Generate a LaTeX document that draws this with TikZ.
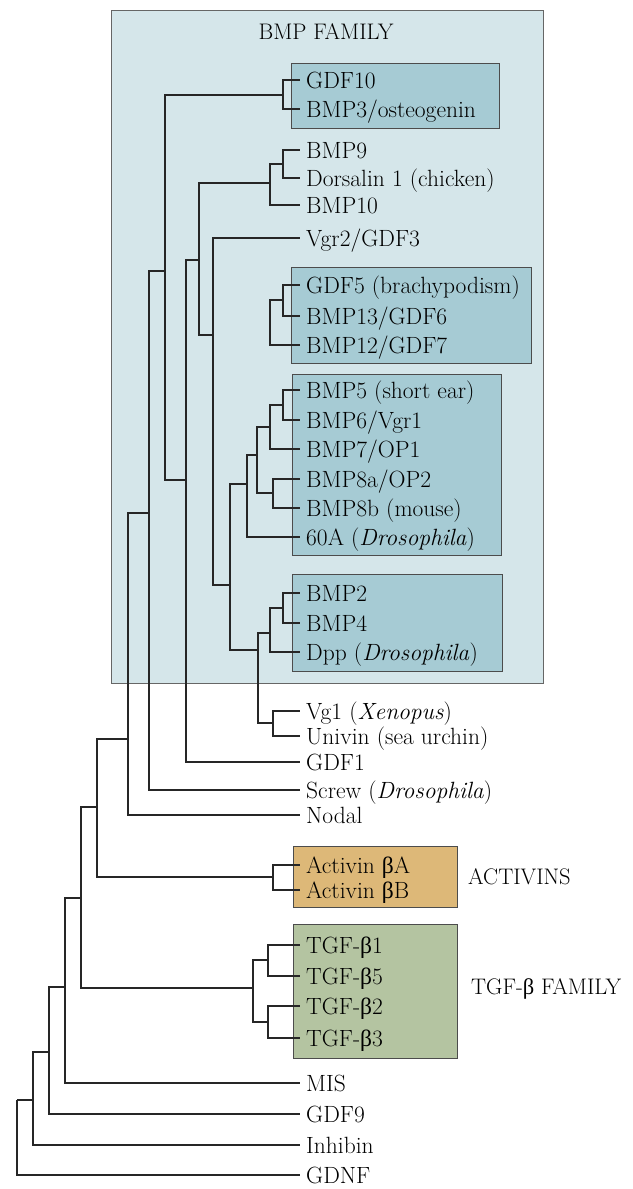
\documentclass[tikz,border=0pt]{standalone}
\usepackage{fontspec}
\newfontfamily\grkfont{Liberation Serif}
\newcommand{\upb}{{\grkfont β}}
\definecolor{bmpout}{RGB}{213,230,234}
\definecolor{bmpin}{RGB}{166,203,212}
\definecolor{actfill}{RGB}{221,184,120}
\definecolor{tgffill}{RGB}{180,196,161}

\begin{document}
\begin{tikzpicture}[
  x=1pt, y=-1pt,
  every node/.style={inner sep=0pt},
  leaf/.style={anchor=west, inner xsep=6pt, text height=16pt, text depth=0pt, font=\fontsize{23.5}{28}\selectfont},
  ttl/.style={text height=15.5pt, text depth=0pt, font=\fontsize{22.5}{27}\selectfont},
  br/.style={line width=1.1pt, draw=black!85},
  famP/.style={fill=bmpout, draw=black!60, line width=0.8pt},
  subP/.style={fill=bmpin, draw=black!70, line width=0.8pt},
]
  \useasboundingbox (0,0) rectangle (632,1189);

  % ============ family boxes ============
  \draw[famP] (111,10) rectangle (543,683);
  \draw[subP] (291,63) rectangle (499,128);
  \draw[subP] (291,267) rectangle (531,363);
  \draw[subP] (292,374) rectangle (501,555);
  \draw[subP] (292,574) rectangle (502,671);
  \draw[line width=0.8pt, draw=black!70, fill=actfill] (293,846) rectangle (457,907);
  \draw[line width=0.8pt, draw=black!70, fill=tgffill] (293,924) rectangle (457,1058);

  \node[ttl] (bmpttl) at (326,32) {BMP FAMILY};
  \node[ttl,anchor=west] (actttl) at (468,877) {ACTIVINS};
  \node[ttl,anchor=west] (tgfttl) at (471,987) {TGF-\upb{} FAMILY};

  % ============ leaves ============
  \node[leaf] (gdf10) at (300,80) {GDF10};
  \node[leaf] (bmp3) at (300,109) {BMP3/osteogenin};
  \node[leaf] (bmp9) at (300,150) {BMP9};
  \node[leaf] (dors) at (300,178) {Dorsalin 1 (chicken)};
  \node[leaf] (bmp10) at (300,205) {BMP10};
  \node[leaf] (vgr2) at (300,238) {Vgr2/GDF3};
  \node[leaf] (gdf5) at (300,285) {GDF5 (brachypodism)};
  \node[leaf] (bmp13) at (300,316) {BMP13/GDF6};
  \node[leaf] (bmp12) at (300,345) {BMP12/GDF7};
  \node[leaf] (bmp5) at (300,390) {BMP5 (short ear)};
  \node[leaf] (bmp6) at (300,420) {BMP6/Vgr1};
  \node[leaf] (bmp7) at (300,449) {BMP7/OP1};
  \node[leaf] (bmp8a) at (300,479) {BMP8a/OP2};
  \node[leaf] (bmp8b) at (300,508) {BMP8b (mouse)};
  \node[leaf] (sixtyA) at (300,537) {60A (\textit{Drosophila})};
  \node[leaf] (bmp2) at (300,593) {BMP2};
  \node[leaf] (bmp4) at (300,623) {BMP4};
  \node[leaf] (dpp) at (300,652) {Dpp (\textit{Drosophila})};
  \node[leaf] (vg1) at (300,711) {Vg1 (\textit{Xenopus})};
  \node[leaf] (univin) at (300,736) {Univin (sea urchin)};
  \node[leaf] (gdf1) at (300,762) {GDF1};
  \node[leaf] (screw) at (300,790) {Screw (\textit{Drosophila})};
  \node[leaf] (nodal) at (300,815) {Nodal};
  \node[leaf] (actA) at (300,865) {Activin \upb A};
  \node[leaf] (actB) at (300,890) {Activin \upb B};
  \node[leaf] (tgfb1) at (300,945) {TGF-\upb 1};
  \node[leaf] (tgfb5) at (300,976) {TGF-\upb 5};
  \node[leaf] (tgfb2) at (300,1006) {TGF-\upb 2};
  \node[leaf] (tgfb3) at (300,1038) {TGF-\upb 3};
  \node[leaf] (mis) at (300,1083) {MIS};
  \node[leaf] (gdf9) at (300,1114) {GDF9};
  \node[leaf] (inhibin) at (300,1145) {Inhibin};
  \node[leaf] (gdnf) at (300,1175) {GDNF};

  % ============ branch points ============
  \coordinate (a1) at (283,95);
  \coordinate (a2) at (283,164);
  \coordinate (a3) at (270,183);
  \coordinate (a4) at (283,300);
  \coordinate (a5) at (270,323);
  \coordinate (a6) at (283,405);
  \coordinate (a7) at (270,427);
  \coordinate (a8) at (273,493);
  \coordinate (a9) at (257,455);
  \coordinate (a10) at (247,484);
  \coordinate (b1) at (283,608);
  \coordinate (b2) at (270,633);
  \coordinate (b3) at (273,723);
  \coordinate (b4) at (258,650);
  \coordinate (c1) at (230,585);
  \coordinate (c2) at (213,335);
  \coordinate (c3) at (199,260);
  \coordinate (c4) at (186,480);
  \coordinate (c5) at (165,271);
  \coordinate (c6) at (149,513);
  \coordinate (c7) at (128,739);
  \coordinate (c8) at (97,807);
  \coordinate (d1) at (273,877);
  \coordinate (c9) at (81,898);
  \coordinate (e1) at (268,960);
  \coordinate (e2) at (268,1022);
  \coordinate (e3) at (253,988);
  \coordinate (c10) at (65,987);
  \coordinate (c11) at (49,1052);
  \coordinate (c12) at (33,1100);
  \coordinate (root) at (17,1100);

  % ============ branches ============
  \draw[br] (a1) |- (gdf10.west);  \draw[br] (a1) |- (bmp3.west);
  \draw[br] (a2) |- (bmp9.west);   \draw[br] (a2) |- (dors.west);
  \draw[br] (a3) |- (a2);          \draw[br] (a3) |- (bmp10.west);
  \draw[br] (a4) |- (gdf5.west);   \draw[br] (a4) |- (bmp13.west);
  \draw[br] (a5) |- (a4);          \draw[br] (a5) |- (bmp12.west);
  \draw[br] (a6) |- (bmp5.west);   \draw[br] (a6) |- (bmp6.west);
  \draw[br] (a7) |- (a6);          \draw[br] (a7) |- (bmp7.west);
  \draw[br] (a8) |- (bmp8a.west);  \draw[br] (a8) |- (bmp8b.west);
  \draw[br] (a9) |- (a7);          \draw[br] (a9) |- (a8);
  \draw[br] (a10) |- (a9);         \draw[br] (a10) |- (sixtyA.west);
  \draw[br] (b1) |- (bmp2.west);   \draw[br] (b1) |- (bmp4.west);
  \draw[br] (b2) |- (b1);          \draw[br] (b2) |- (dpp.west);
  \draw[br] (b3) |- (vg1.west);    \draw[br] (b3) |- (univin.west);
  \draw[br] (b4) |- (b2);          \draw[br] (b4) |- (b3);
  \draw[br] (c1) |- (a10);         \draw[br] (c1) |- (b4);
  \draw[br] (c2) |- (vgr2.west);   \draw[br] (c2) |- (c1);
  \draw[br] (c3) |- (a3);          \draw[br] (c3) |- (c2);
  \draw[br] (c4) |- (c3);          \draw[br] (c4) |- (gdf1.west);
  \draw[br] (c5) |- (a1);          \draw[br] (c5) |- (c4);
  \draw[br] (c6) |- (c5);          \draw[br] (c6) |- (screw.west);
  \draw[br] (c7) |- (c6);          \draw[br] (c7) |- (nodal.west);
  \draw[br] (d1) |- (actA.west);   \draw[br] (d1) |- (actB.west);
  \draw[br] (c8) |- (c7);          \draw[br] (c8) |- (d1);
  \draw[br] (e1) |- (tgfb1.west);  \draw[br] (e1) |- (tgfb5.west);
  \draw[br] (e2) |- (tgfb2.west);  \draw[br] (e2) |- (tgfb3.west);
  \draw[br] (e3) |- (e1);          \draw[br] (e3) |- (e2);
  \draw[br] (c9) |- (c8);          \draw[br] (c9) |- (e3);
  \draw[br] (c10) |- (c9);         \draw[br] (c10) |- (mis.west);
  \draw[br] (c11) |- (c10);        \draw[br] (c11) |- (gdf9.west);
  \draw[br] (c12) |- (c11);        \draw[br] (c12) |- (inhibin.west);
  \draw[br] (root) |- (c12);       \draw[br] (root) |- (gdnf.west);
\end{tikzpicture}
\end{document}
